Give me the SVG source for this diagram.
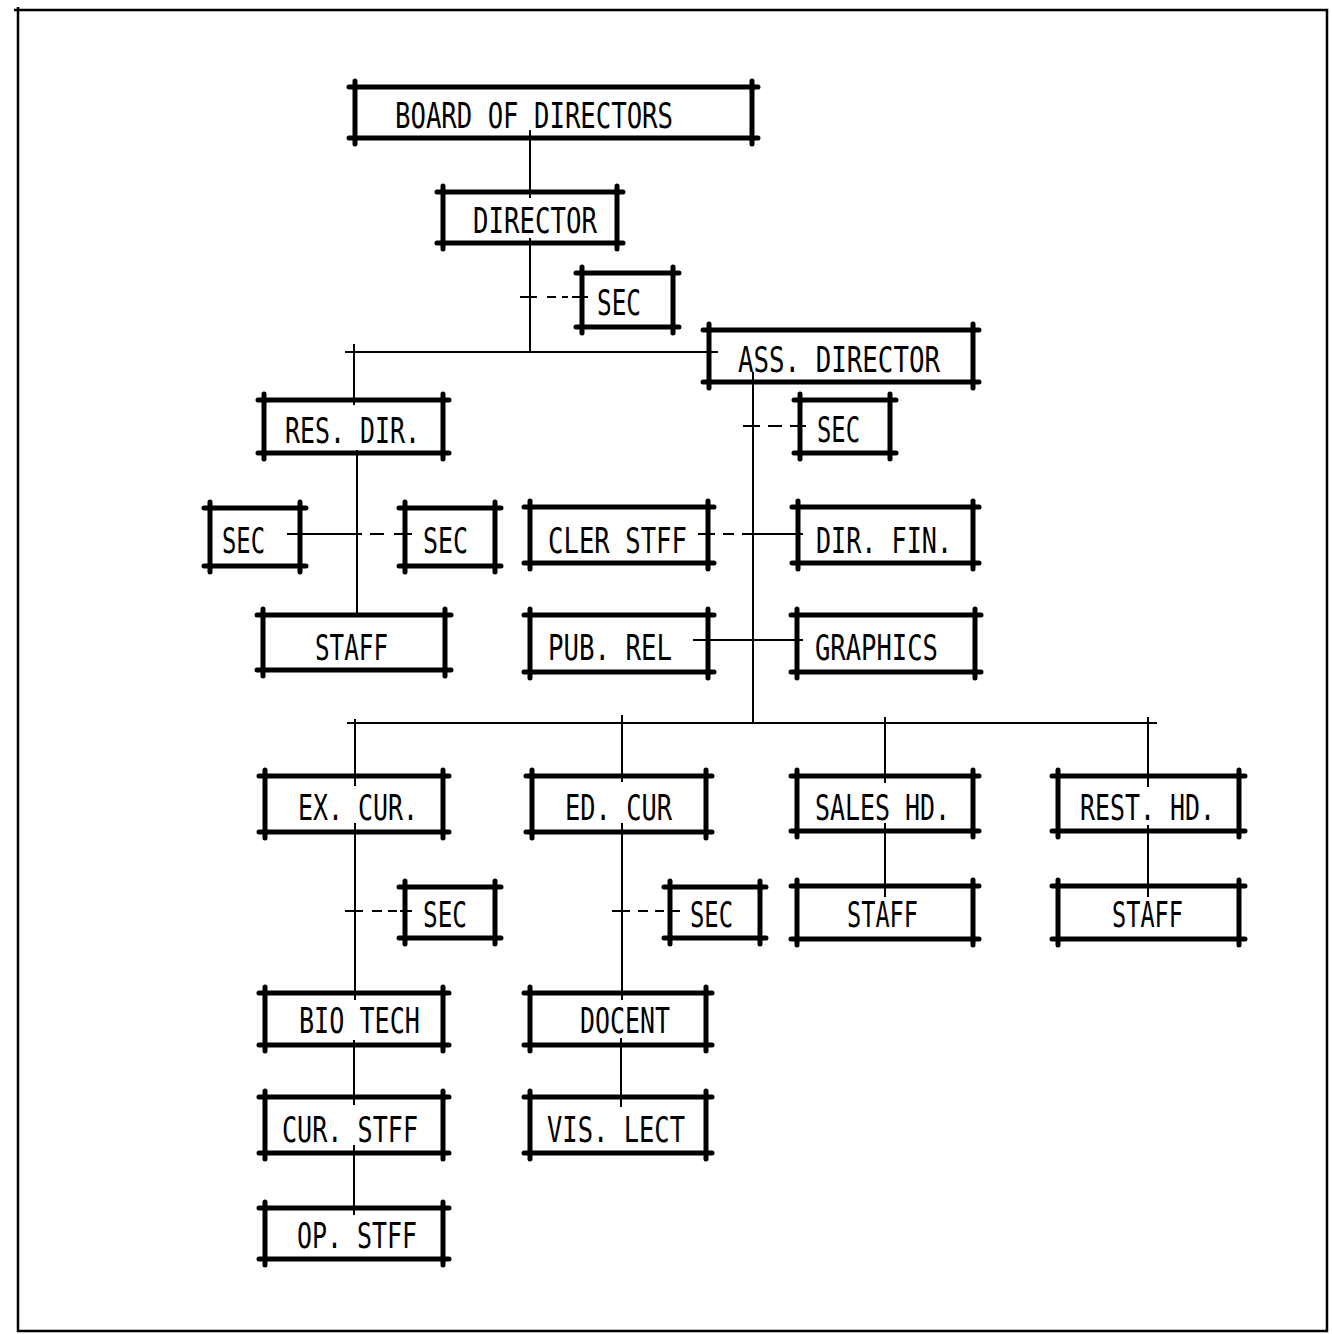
<svg xmlns="http://www.w3.org/2000/svg" width="1332" height="1334" viewBox="0 0 1332 1334">
<style>
.frame{fill:none;stroke:#000;stroke-width:2.5}
.box{fill:none;stroke:#000;stroke-width:5;stroke-linecap:round}
.lbl{font-family:"DejaVu Sans Mono","Liberation Sans",monospace;font-size:35px;fill:#000}
.con{fill:none;stroke:#000;stroke-width:2}
</style>
<rect width="1332" height="1334" fill="#fff"/>
<path class="frame" d="M14 10H1327V1331H18V7"/>
<g id="connectors">
<path class="con" d="M530 130V198M530 238V352M345 352H718M354 344V405"/>
<path class="con" d="M520 297H537M547 297H556M562 297H568M572 297H588"/>
<path class="con" d="M753 372V723"/>
<path class="con" d="M743 426H760M768 426H782M790 426H806"/>
<path class="con" d="M357 450V613"/>
<path class="con" d="M287 534H362M370 534H384M394 534H412"/>
<path class="con" d="M698 534H715M723 534H734M742 534H803"/>
<path class="con" d="M693 640H803"/>
<path class="con" d="M347 723H1157M355 719V786M622 715V782M885 717V783M1148 717V787"/>
<path class="con" d="M355 823V1000M345 911H363M372 911H382M388 911H397M400 911H412"/>
<path class="con" d="M622 823V1000M612 911H630M638 911H648M655 911H664M668 911H680"/>
<path class="con" d="M885 823V897M1148 825V897"/>
<path class="con" d="M354 1040V1105M354 1145V1215M621 1038V1107"/>
</g>
<g id="board"><path class="box" d="M349 87H758M349 138H758M355 81V144M752 81V144"/><text class="lbl" x="395" y="128" textLength="278" lengthAdjust="spacingAndGlyphs">BOARD OF DIRECTORS</text></g>
<g id="director"><path class="box" d="M437 192H623M437 243H623M443 186V249M617 186V249"/><text class="lbl" x="473" y="233" textLength="124" lengthAdjust="spacingAndGlyphs">DIRECTOR</text></g>
<g id="sec-dir"><path class="box" d="M576 273H679M576 327H679M582 267V333M673 267V333"/><text class="lbl" x="597" y="315" textLength="44" lengthAdjust="spacingAndGlyphs">SEC</text></g>
<g id="ass-director"><path class="box" d="M703 330H979M703 382H979M709 324V388M973 324V388"/><text class="lbl" x="738" y="372" textLength="202" lengthAdjust="spacingAndGlyphs">ASS. DIRECTOR</text></g>
<g id="res-dir"><path class="box" d="M258 400H449M258 453H449M264 394V459M443 394V459"/><text class="lbl" x="285" y="443" textLength="135" lengthAdjust="spacingAndGlyphs">RES. DIR.</text></g>
<g id="sec-ass"><path class="box" d="M794 400H896M794 453H896M800 394V459M890 394V459"/><text class="lbl" x="817" y="442" textLength="43" lengthAdjust="spacingAndGlyphs">SEC</text></g>
<g id="sec-res-left"><path class="box" d="M204 508H306M204 566H306M210 502V572M300 502V572"/><text class="lbl" x="222" y="553" textLength="43" lengthAdjust="spacingAndGlyphs">SEC</text></g>
<g id="sec-res-right"><path class="box" d="M399 508H501M399 566H501M405 502V572M495 502V572"/><text class="lbl" x="423" y="553" textLength="45" lengthAdjust="spacingAndGlyphs">SEC</text></g>
<g id="cler-stff"><path class="box" d="M524 507H714M524 563H714M530 501V569M708 501V569"/><text class="lbl" x="548" y="553" textLength="139" lengthAdjust="spacingAndGlyphs">CLER STFF</text></g>
<g id="dir-fin"><path class="box" d="M792 507H979M792 563H979M798 501V569M973 501V569"/><text class="lbl" x="816" y="553" textLength="136" lengthAdjust="spacingAndGlyphs">DIR. FIN.</text></g>
<g id="staff-res"><path class="box" d="M257 615H451M257 670H451M263 609V676M445 609V676"/><text class="lbl" x="315" y="660" textLength="73" lengthAdjust="spacingAndGlyphs">STAFF</text></g>
<g id="pub-rel"><path class="box" d="M524 615H714M524 672H714M530 609V678M708 609V678"/><text class="lbl" x="548" y="660" textLength="124" lengthAdjust="spacingAndGlyphs">PUB. REL</text></g>
<g id="graphics"><path class="box" d="M791 615H981M791 672H981M797 609V678M975 609V678"/><text class="lbl" x="815" y="660" textLength="123" lengthAdjust="spacingAndGlyphs">GRAPHICS</text></g>
<g id="ex-cur"><path class="box" d="M259 776H449M259 832H449M265 770V838M443 770V838"/><text class="lbl" x="298" y="820" textLength="120" lengthAdjust="spacingAndGlyphs">EX. CUR.</text></g>
<g id="ed-cur"><path class="box" d="M526 776H712M526 832H712M532 770V838M706 770V838"/><text class="lbl" x="565" y="820" textLength="107" lengthAdjust="spacingAndGlyphs">ED. CUR</text></g>
<g id="sales-hd"><path class="box" d="M791 776H979M791 831H979M797 770V837M973 770V837"/><text class="lbl" x="815" y="820" textLength="135" lengthAdjust="spacingAndGlyphs">SALES HD.</text></g>
<g id="rest-hd"><path class="box" d="M1052 776H1245M1052 831H1245M1058 770V837M1239 770V837"/><text class="lbl" x="1080" y="820" textLength="135" lengthAdjust="spacingAndGlyphs">REST. HD.</text></g>
<g id="sec-ex"><path class="box" d="M399 887H501M399 938H501M405 881V944M495 881V944"/><text class="lbl" x="423" y="927" textLength="44" lengthAdjust="spacingAndGlyphs">SEC</text></g>
<g id="sec-ed"><path class="box" d="M664 887H766M664 938H766M670 881V944M760 881V944"/><text class="lbl" x="690" y="927" textLength="43" lengthAdjust="spacingAndGlyphs">SEC</text></g>
<g id="staff-sales"><path class="box" d="M791 886H979M791 939H979M797 880V945M973 880V945"/><text class="lbl" x="847" y="927" textLength="71" lengthAdjust="spacingAndGlyphs">STAFF</text></g>
<g id="staff-rest"><path class="box" d="M1052 886H1245M1052 939H1245M1058 880V945M1239 880V945"/><text class="lbl" x="1112" y="927" textLength="71" lengthAdjust="spacingAndGlyphs">STAFF</text></g>
<g id="bio-tech"><path class="box" d="M259 993H449M259 1045H449M265 987V1051M443 987V1051"/><text class="lbl" x="299" y="1033" textLength="121" lengthAdjust="spacingAndGlyphs">BIO TECH</text></g>
<g id="docent"><path class="box" d="M524 993H712M524 1045H712M530 987V1051M706 987V1051"/><text class="lbl" x="580" y="1033" textLength="90" lengthAdjust="spacingAndGlyphs">DOCENT</text></g>
<g id="cur-stff"><path class="box" d="M259 1097H449M259 1153H449M265 1091V1159M443 1091V1159"/><text class="lbl" x="282" y="1142" textLength="136" lengthAdjust="spacingAndGlyphs">CUR. STFF</text></g>
<g id="vis-lect"><path class="box" d="M524 1097H712M524 1153H712M530 1091V1159M706 1091V1159"/><text class="lbl" x="547" y="1142" textLength="138" lengthAdjust="spacingAndGlyphs">VIS. LECT</text></g>
<g id="op-stff"><path class="box" d="M259 1208H449M259 1259H449M265 1202V1265M443 1202V1265"/><text class="lbl" x="297" y="1248" textLength="120" lengthAdjust="spacingAndGlyphs">OP. STFF</text></g>
</svg>
